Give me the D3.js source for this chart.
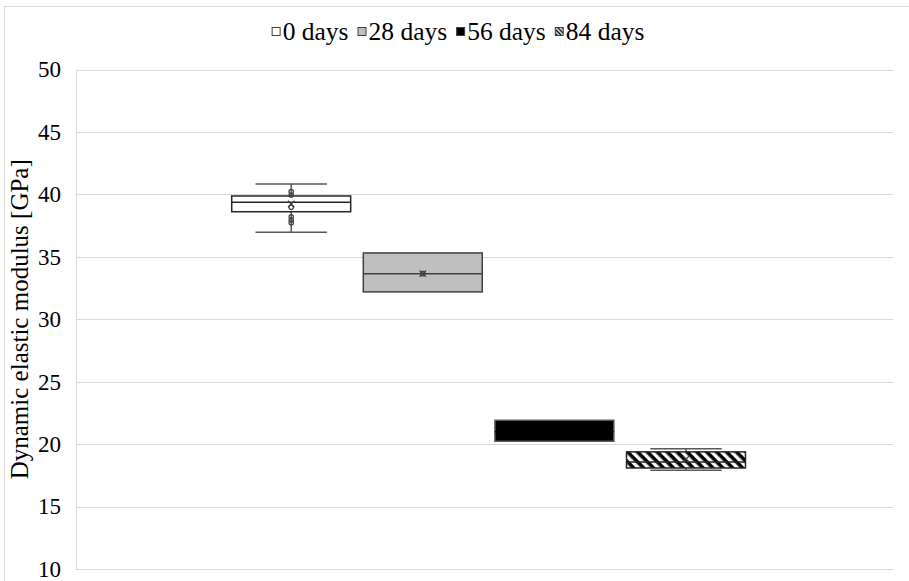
<!DOCTYPE html>
<html>
<head>
<meta charset="utf-8">
<script src="https://cdn.jsdelivr.net/npm/d3@7"></script>
<style>
  body { margin: 0; background: #fff; }
  svg { display: block; }
  svg text { font-family: "Liberation Serif", "Tinos", "Times New Roman", "DejaVu Serif", serif !important; }
</style>
</head>
<body>
<svg id="chart" width="909" height="581"></svg>
<script>
"use strict";
// series (ageing time) and box statistics
var series = ["0 days", "28 days", "56 days", "84 days"];
var whiskerLow = [36.97, 32.19, 20.23, 17.91];
var q1 = [38.61, 32.19, 20.23, 18.09];
var median = [39.37, 33.65, 21.0, 18.57];
var q3 = [39.87, 35.31, 21.91, 19.38];
var whiskerHigh = [40.83, 35.31, 21.91, 19.62];
var means = [39.23, 33.65, 21.0, 18.8];
var innerPoints = [[40.22, 39.95, 38.97, 38.21, 37.95, 37.73], [33.65], [], []];
var yTicks = [10, 15, 20, 25, 30, 35, 40, 45, 50];

var fills = ["#ffffff", "#bfbfbf", "#000000", "url(#hatch)"];
var strokes = ["#262626", "#404040", "#595959", "#262626"];

var svg = d3.select("#chart");
var plotLeft = 76, plotRight = 893, plotTop = 69.5, plotBottom = 569;

var defs = svg.append("defs");
var pat = defs.append("pattern")
  .attr("id", "hatch")
  .attr("patternUnits", "userSpaceOnUse")
  .attr("width", 7).attr("height", 7)
  .attr("patternTransform", "rotate(45)");
pat.append("rect").attr("width", 7).attr("height", 7).attr("fill", "#fff");
pat.append("rect").attr("x", 0).attr("y", 0).attr("width", 7).attr("height", 3.6).attr("fill", "#000");

var patSmall = defs.append("pattern")
  .attr("id", "hatchSmall")
  .attr("patternUnits", "userSpaceOnUse")
  .attr("width", 3).attr("height", 3)
  .attr("patternTransform", "rotate(45)");
patSmall.append("rect").attr("width", 3).attr("height", 3).attr("fill", "#fff");
patSmall.append("rect").attr("width", 3).attr("height", 1.5).attr("fill", "#000");

// outer chart border
svg.append("rect")
  .attr("x", 4.5).attr("y", 6.5)
  .attr("width", 920).attr("height", 600)
  .attr("fill", "none").attr("stroke", "#d9d9d9").attr("stroke-width", 1);

var y = d3.scaleLinear().domain([10, 50]).range([plotBottom, plotTop]);
var x = d3.scaleBand().domain(series)
  .range([225.4, 751.8])
  .paddingInner(0.096)
  .paddingOuter(0.048);

// gridlines
svg.append("g")
  .selectAll("line")
  .data(yTicks)
  .join("line")
  .attr("x1", plotLeft).attr("x2", plotRight)
  .attr("y1", function (d) { return Math.round(y(d)) + 0.5; })
  .attr("y2", function (d) { return Math.round(y(d)) + 0.5; })
  .attr("stroke", "#d9d9d9").attr("stroke-width", 1);

svg.append("line")
  .attr("x1", plotLeft + 0.5).attr("x2", plotLeft + 0.5)
  .attr("y1", plotTop).attr("y2", plotBottom)
  .attr("stroke", "#d9d9d9");

// y axis labels
var yAxis = d3.axisLeft(y).tickValues(yTicks).tickSize(0).tickPadding(15);
var gy = svg.append("g").attr("transform", "translate(" + plotLeft + ",0)").call(yAxis);
gy.select(".domain").remove();
gy.attr("font-family", null);
gy.selectAll("text")
  .attr("font-size", 23)
  .attr("fill", "#000");

svg.append("text")
  .attr("transform", "translate(22," + ((plotTop + plotBottom) / 2) + ") rotate(-90)")
  .attr("text-anchor", "middle")
  .attr("dominant-baseline", "middle")
  .attr("font-size", 25)
  .text("Dynamic elastic modulus [GPa]");

// boxes
var idx = d3.range(series.length);
var boxes = svg.append("g").selectAll("g").data(idx).join("g");

boxes.each(function (i) {
  var g = d3.select(this);
  var cx = x(series[i]) + x.bandwidth() / 2;
  var cap = x.bandwidth() * 0.3;
  var ink = i === 2 ? "#000" : "#404040";
  // whiskers
  g.append("line")
    .attr("x1", cx).attr("x2", cx)
    .attr("y1", y(whiskerHigh[i])).attr("y2", y(q3[i]))
    .attr("stroke", "#595959").attr("stroke-width", 1.5);
  g.append("line")
    .attr("x1", cx).attr("x2", cx)
    .attr("y1", y(q1[i])).attr("y2", y(whiskerLow[i]))
    .attr("stroke", "#595959").attr("stroke-width", 1.5);
  [whiskerHigh[i], whiskerLow[i]].forEach(function (v) {
    if (v === q1[i] || v === q3[i]) return;
    g.append("line")
      .attr("x1", cx - cap).attr("x2", cx + cap)
      .attr("y1", y(v)).attr("y2", y(v))
      .attr("stroke", "#595959").attr("stroke-width", 1.5);
  });
  g.append("rect")
    .attr("x", x(series[i]))
    .attr("y", y(q3[i]))
    .attr("width", x.bandwidth())
    .attr("height", y(q1[i]) - y(q3[i]))
    .attr("fill", fills[i])
    .attr("stroke", strokes[i]).attr("stroke-width", 1.5);
  g.append("line")
    .attr("x1", x(series[i])).attr("x2", x(series[i]) + x.bandwidth())
    .attr("y1", y(median[i])).attr("y2", y(median[i]))
    .attr("stroke", i === 2 ? "#000" : strokes[i]).attr("stroke-width", 1.5);
  // inner points
  g.selectAll("circle")
    .data(innerPoints[i])
    .join("circle")
    .attr("cx", cx).attr("cy", function (d) { return y(d); })
    .attr("r", 2.2)
    .attr("fill", "none").attr("stroke", ink).attr("stroke-width", 1.2);
  // mean marker
  var m = 3.2, my = y(means[i]);
  g.append("path")
    .attr("d", "M" + (cx - m) + "," + (my - m) + "L" + (cx + m) + "," + (my + m) +
      "M" + (cx + m) + "," + (my - m) + "L" + (cx - m) + "," + (my + m))
    .attr("stroke", ink).attr("stroke-width", 1.3);
});

// legend, centred above the plot
var legend = svg.append("g").attr("transform", "translate(0,32)");
var legFills = ["#ffffff", "#bfbfbf", "#000000", "url(#hatchSmall)"];
var items = [];
var lx = 0;
series.forEach(function (s, i) {
  var it = legend.append("g");
  it.append("rect")
    .attr("x", 0.5).attr("y", -4.5)
    .attr("width", 8).attr("height", 8)
    .attr("fill", legFills[i]).attr("stroke", "#404040").attr("stroke-width", 1);
  var t = it.append("text")
    .attr("x", 11).attr("y", 8)
    .attr("font-size", 25.5)
    .text(s);
  var w = 11 + t.node().getComputedTextLength();
  it.attr("transform", "translate(" + lx + ",0)");
  lx += w + 9;
});
legend.attr("transform", "translate(" + (458 - (lx - 9) / 2) + ",32)");
</script>
</body>
</html>
